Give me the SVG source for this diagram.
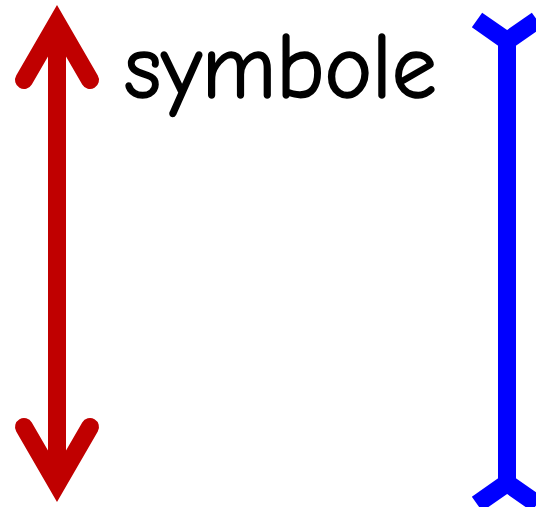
<svg xmlns="http://www.w3.org/2000/svg" width="536" height="507" viewBox="0 0 536 507">
<style>
.red{fill:none;stroke:#c00000;stroke-width:18;stroke-linecap:round;stroke-linejoin:miter;stroke-miterlimit:10}
.blue{fill:none;stroke:#0000ff;stroke-width:18;stroke-linecap:butt;stroke-linejoin:miter;stroke-miterlimit:10}
.lbl{font-family:"Comic Sans MS","Comic Neue","DejaVu Sans",sans-serif;font-size:94px;fill:#000;stroke:#000;stroke-width:1.6;stroke-linejoin:round}
</style>
<rect width="536" height="507" fill="#fff"/>
<g id="connectors">
<g id="red-arrow">
<line class="red" x1="57" y1="30" x2="57" y2="477" style="stroke-linecap:butt"/>
<polyline class="red" points="24,80 57,23 90,80"/>
<polyline class="red" points="24,427 57,484 90,427"/>
</g>
<g id="blue-line">
<path class="blue" d="M477,20 L507,41 L537,20"/>
<path class="blue" d="M477,504 L507,483 L537,504"/>
<line class="blue" x1="507" y1="31" x2="507" y2="493"/>
</g>
</g>
<g id="label">
<text class="lbl" x="124" y="98" textLength="313" lengthAdjust="spacingAndGlyphs">symbole</text>
</g>
</svg>
